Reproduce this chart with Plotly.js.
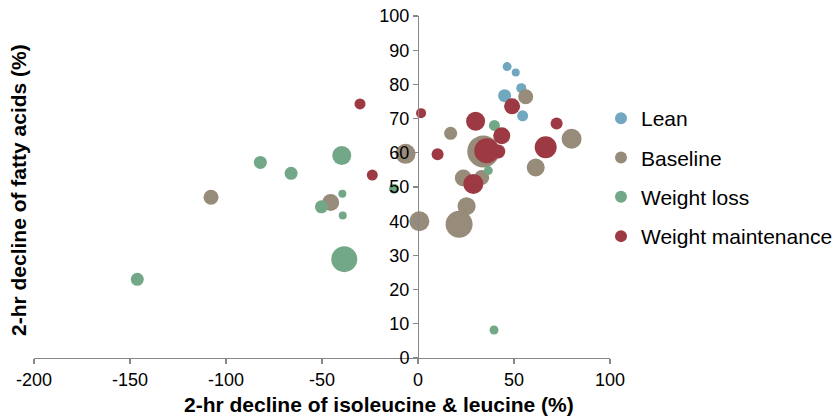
<!DOCTYPE html>
<html>
<head>
<meta charset="utf-8">
<script src="https://cdn.plot.ly/plotly-3.0.1.min.js"></script>
<style>html,body{margin:0;padding:0;background:#fff;overflow:hidden;}#chart{width:860px;height:420px;}</style>
</head>
<body>
<div id="chart"></div>
<script>
// Data (x: % decline isoleucine & leucine, y: % decline fatty acids, size: bubble diameter)
var seriesNames = ["Lean", "Baseline", "Weight loss", "Weight maintenance"];

var leanX = [46.4, 50.9, 53.8, 45.1, 54.5];
var leanY = [85.2, 83.5, 78.9, 76.7, 70.8];
var leanSize = [9, 8, 10, 13, 11];

var baseX = [56.1, 17.0, 80.0, -6.5, 34.0, 61.3, 23.6, 33.2, 25.3, 0.7, 21.4, -107.8, -45.5];
var baseY = [76.4, 65.7, 64.1, 59.7, 60.4, 55.7, 52.6, 52.8, 44.4, 40.0, 39.1, 47.0, 45.5];
var baseSize = [15, 13, 20, 20, 32, 18, 17, 15, 18, 20, 27, 15, 17];

var lossX = [-146.2, -82.1, -66.1, -39.7, -39.4, -50.3, -39.2, -38.4, 39.8, 36.6, -12.5, 39.6];
var lossY = [23.0, 57.2, 54.0, 59.2, 48.0, 44.2, 41.7, 28.9, 68.0, 54.8, 49.5, 8.2];
var lossSize = [13, 13, 13, 19, 8, 13, 8, 26, 11, 9, 10, 9];

var maintX = [-30.2, 1.6, -23.8, 10.2, 30.0, 49.0, 72.2, 43.6, 35.8, 41.8, 66.5, 28.8];
var maintY = [74.3, 71.6, 53.5, 59.6, 69.2, 73.6, 68.6, 65.0, 60.6, 60.4, 61.6, 50.9];
var maintSize = [11, 10, 11, 12, 19, 16, 12, 17, 25, 14, 22, 20];

var xTicks = [-200, -150, -100, -50, 0, 50, 100];
var yTicks = [0, 10, 20, 30, 40, 50, 60, 70, 80, 90, 100];

var colors = ["#71A8C0", "#978B7A", "#72A887", "#9C3942"];
var xs = [leanX, baseX, lossX, maintX];
var ys = [leanY, baseY, lossY, maintY];
var ss = [leanSize, baseSize, lossSize, maintSize];

var FONT = "Liberation Sans, Arial, sans-serif";

var traces = seriesNames.map(function (name, i) {
  return {
    type: "scatter",
    mode: "markers",
    name: name,
    legendgroup: "g" + i,
    x: xs[i],
    y: ys[i],
    marker: {
      color: colors[i],
      size: ss[i],
      sizemode: "diameter",
      opacity: 1,
      line: { width: 0 }
    },
    hoverinfo: "x+y"
  };
});

var axisCol = "#878787";
// canvas 860 wide (visible window 835); paper area 34..860 (826 px); plot area 34..610
var W = 860, PL = 34, PW = W - PL;
function px2paperX(p) { return (p - PL) / PW; }

var layout = {
  width: W,
  height: 420,
  margin: { l: PL, r: 0, t: 16, b: 62, pad: 0 },
  paper_bgcolor: "#ffffff",
  plot_bgcolor: "#ffffff",
  font: { family: FONT, color: "#000000", size: 18 },
  showlegend: true,
  legend: {
    x: px2paperX(601), xanchor: "left",
    y: 0.76, yanchor: "top",
    font: { family: FONT, size: 21, color: "#000000" },
    itemsizing: "constant",
    traceorder: "grouped",
    tracegroupgap: 9,
    bgcolor: "rgba(0,0,0,0)",
    borderwidth: 0
  },
  xaxis: {
    domain: [0, 576 / PW],
    range: [-200, 100],
    tickmode: "array",
    tickvals: xTicks,
    ticktext: xTicks.map(String),
    ticks: "outside",
    ticklen: 5,
    tickwidth: 1.3,
    tickcolor: axisCol,
    showline: true,
    linecolor: axisCol,
    linewidth: 1.3,
    showgrid: false,
    zeroline: false,
    automargin: false,
    tickfont: { family: FONT, size: 18, color: "#000000" }
  },
  yaxis: {
    range: [0, 100],
    tickmode: "array",
    tickvals: yTicks,
    ticktext: yTicks.map(String),
    anchor: "free",
    position: (576 / PW) * (200 / 300),
    ticks: "outside",
    ticklen: 5,
    tickwidth: 1.3,
    tickcolor: axisCol,
    showline: true,
    linecolor: axisCol,
    linewidth: 1.3,
    showgrid: false,
    zeroline: false,
    automargin: false,
    tickfont: { family: FONT, size: 18, color: "#000000" }
  },
  annotations: [
    {
      text: "<b>2-hr decline of isoleucine &amp; leucine (%)</b>",
      xref: "paper", yref: "paper",
      x: px2paperX(379), y: (358 - 405) / 342,
      xanchor: "center", yanchor: "middle",
      showarrow: false,
      font: { family: FONT, size: 21, color: "#000000" }
    },
    {
      text: "<b>2-hr decline of fatty acids (%)</b>",
      xref: "paper", yref: "paper",
      x: px2paperX(18), y: (358 - 190) / 342,
      xanchor: "center", yanchor: "middle",
      textangle: -90,
      showarrow: false,
      font: { family: FONT, size: 21, color: "#000000" }
    }
  ]
};

Plotly.newPlot("chart", traces, layout, { displayModeBar: false, staticPlot: true });
</script>
</body>
</html>
